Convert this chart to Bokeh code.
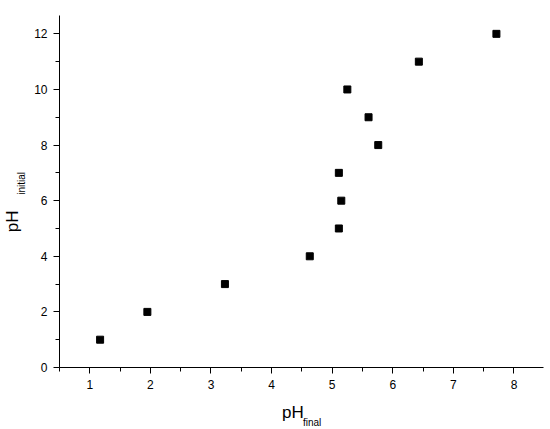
from bokeh.plotting import figure
from bokeh.models import FixedTicker, LinearAxis, Range1d, Title
from bokeh.embed import file_html
from bokeh.resources import INLINE

# Data
ph_final = [1.17, 1.95, 3.23, 4.63, 5.11, 5.15, 5.11, 5.76, 5.60, 5.25, 6.43, 7.71]
ph_initial = [1, 2, 3, 4, 5, 6, 7, 8, 9, 10, 11, 12]

x_ticks = [1, 2, 3, 4, 5, 6, 7, 8]
x_minor = [0.5, 1.5, 2.5, 3.5, 4.5, 5.5, 6.5, 7.5, 8.5]
y_ticks = [0, 2, 4, 6, 8, 10, 12]
y_minor = [1, 3, 5, 7, 9, 11]

# Axis titles ("pH" with a subscript)
x_title = "pH"
x_sub = "final"
y_title = "pH"
y_sub = "initial"

FONT = "Liberation Sans"

p = figure(width=550, height=429, output_backend="svg", toolbar_location=None,
           x_range=Range1d(0.5, 8.487), y_range=Range1d(0, 12.66),
           min_border_left=59, min_border_right=7, min_border_top=15,
           min_border_bottom=62)
p.outline_line_color = None
p.xgrid.visible = False
p.ygrid.visible = False
p.background_fill_color = "white"
p.border_fill_color = "white"

p.scatter(ph_final, ph_initial, marker="square", size=7,
          fill_color="black", line_color="black")

for ax, ticks, minor in ((p.xaxis[0], x_ticks, x_minor), (p.yaxis[0], y_ticks, y_minor)):
    ax.ticker = FixedTicker(ticks=ticks, minor_ticks=minor)
    ax.axis_line_color = "black"
    ax.axis_line_width = 1
    ax.major_tick_line_color = "black"
    ax.minor_tick_line_color = "black"
    ax.major_tick_in = 0
    ax.major_tick_out = 6
    ax.minor_tick_in = 0
    ax.minor_tick_out = 4
    ax.major_label_text_font = FONT
    ax.major_label_text_font_size = "12px"
    ax.major_label_text_color = "black"
    ax.major_label_standoff = 6


def title_axis(pos, text, size, standoff, orientation="horizontal"):
    return LinearAxis(ticker=FixedTicker(ticks=[pos]),
                      major_label_overrides={pos: text},
                      axis_line_color=None, major_tick_line_color=None,
                      minor_tick_line_color=None, major_tick_in=0, major_tick_out=0,
                      minor_tick_in=0, minor_tick_out=0,
                      major_label_standoff=standoff,
                      major_label_orientation=orientation,
                      major_label_text_font=FONT, major_label_text_font_size=size,
                      major_label_text_color="black")


def title(text, size, offset, standoff):
    return Title(text=text, text_font=FONT, text_font_size=size, text_color="black",
                 text_font_style="normal", align="left", offset=offset,
                 standoff=standoff, vertical_align="top")


# x title: "pH" then subscript "final" just below its baseline
p.add_layout(title_axis(4.35, x_title, "17px", 11), "below")
p.add_layout(title(x_sub, "10px", 243.5, -16), "below")
# y title: subscript "initial" nearer the axis, then "pH"
p.add_layout(title_axis(6.62, y_sub, "10px", 4, "vertical"), "left")
p.add_layout(title(y_title, "17px", 135.3, -21), "left")

open("out.html", "w").write(file_html(p, INLINE))
